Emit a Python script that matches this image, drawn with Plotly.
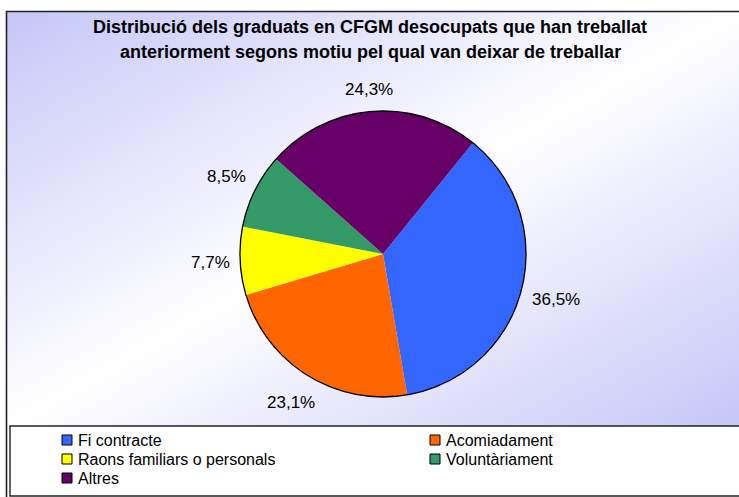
import base64
import math
import plotly.graph_objects as go

# Data
labels = ["Fi contracte", "Acomiadament", "Raons familiars o personals", "Voluntàriament", "Altres"]
values = [36.5, 23.1, 7.7, 8.5, 24.3]
colors = ["#3366FF", "#FF6600", "#FFFF00", "#339966", "#660066"]
title_lines = [
    "Distribució dels graduats en CFGM desocupats que han treballat",
    "anteriorment segons motiu pel qual van deixar de treballar",
]

W, H = 739, 497
FONT = "Liberation Sans, Arial, sans-serif"
LABEL_SIZE = 17
LEGEND_SIZE = 16
ROTATION = 39  # first slice starts this many degrees clockwise from 12 o'clock


def px(x):
    return x / W


def py(y):
    return 1 - y / H


# pie placement (pixels -> paper)
cx, cy, r = 383, 254, 143
domain = dict(x=[px(cx - r), px(cx + r)], y=[py(cy + r), py(cy - r)])

fig = go.Figure()
fig.add_trace(go.Pie(
    labels=labels, values=values, sort=False, direction="clockwise", rotation=ROTATION,
    marker=dict(colors=colors, line=dict(width=0)),
    textinfo="none", showlegend=False, domain=domain, hoverinfo="label+percent",
))
# black rim around the pie
fig.add_trace(go.Pie(
    labels=["rim"], values=[1], sort=False,
    marker=dict(colors=["rgba(0,0,0,0)"], line=dict(color="#000000", width=1.3)),
    textinfo="none", showlegend=False, hoverinfo="skip", domain=domain,
))

# diagonal lavender-white-lavender background for the chart area
gx0, gy0, gx1, gy1 = 7, 12, 739, 426
gw, gh = gx1 - gx0, gy1 - gy0
svg = (
    f'<svg xmlns="http://www.w3.org/2000/svg" width="{gw}" height="{gh}" '
    f'viewBox="0 0 {gw} {gh}" preserveAspectRatio="none">'
    '<defs><linearGradient id="g" x1="0" y1="0" x2="1" y2="1">'
    '<stop offset="0" stop-color="#c6c6f8"/>'
    '<stop offset="0.5" stop-color="#ffffff"/>'
    '<stop offset="1" stop-color="#c6c6f8"/>'
    '</linearGradient></defs>'
    f'<rect width="{gw}" height="{gh}" fill="url(#g)"/></svg>'
)
bg_src = "data:image/svg+xml;base64," + base64.b64encode(svg.encode()).decode()

shapes = [
    # outer chart frame
    dict(type="rect", xref="paper", yref="paper", x0=px(6.5), y0=py(11.5), x1=px(780), y1=py(540),
         line=dict(color="#222222", width=1.6), fillcolor="rgba(0,0,0,0)", layer="above"),
    # legend box
    dict(type="rect", xref="paper", yref="paper", x0=px(10), y0=py(426), x1=px(780), y1=py(496),
         line=dict(color="#222222", width=1.4), fillcolor="#ffffff", layer="above"),
]
annotations = []

# title
for i, line in enumerate(title_lines):
    annotations.append(dict(
        xref="paper", yref="paper", x=px(370), y=py(27 + 25 * i), xanchor="center", yanchor="middle",
        text=f"<b>{line}</b>", showarrow=False, font=dict(family=FONT, size=18, color="#000000"),
    ))

# percentage labels outside each slice, along the slice's mid angle
char_w = {",": 0.278, "%": 0.889}
total = sum(values)
start = 0.0
for v in values:
    txt = f"{v:.1f}".replace(".", ",") + "%"
    mid = math.radians(ROTATION + 360 * (start + v / 2) / total)
    start += v
    ux, uy = math.sin(mid), -math.cos(mid)
    tw = sum(char_w.get(c, 0.556) for c in txt) * LABEL_SIZE
    th = 20
    dist = r + 10 + abs(ux) * tw / 2 + abs(uy) * th / 2
    annotations.append(dict(
        xref="paper", yref="paper", x=px(cx + dist * ux), y=py(cy + dist * uy),
        xanchor="center", yanchor="middle", text=txt, showarrow=False,
        font=dict(family=FONT, size=LABEL_SIZE, color="#000000"),
    ))

# legend: two columns
col_x = [62, 430]
row_y = [440, 459, 478]
sq = 10
for i, (lab, col) in enumerate(zip(labels, colors)):
    x0 = col_x[i % 2]
    yc = row_y[i // 2]
    shapes.append(dict(
        type="rect", xref="paper", yref="paper", x0=px(x0), x1=px(x0 + sq),
        y0=py(yc + sq / 2), y1=py(yc - sq / 2),
        fillcolor=col, line=dict(color="#000000", width=1), layer="above",
    ))
    annotations.append(dict(
        xref="paper", yref="paper", x=px(x0 + sq + 4), y=py(yc), xanchor="left", yanchor="middle",
        text=lab, showarrow=False, font=dict(family=FONT, size=LEGEND_SIZE, color="#000000"),
    ))

fig.update_layout(
    width=W, height=H, margin=dict(l=0, r=0, t=0, b=0),
    paper_bgcolor="#ffffff", plot_bgcolor="#ffffff",
    shapes=shapes, annotations=annotations,
    images=[dict(source=bg_src, xref="paper", yref="paper", x=px(gx0), y=py(gy0),
                 sizex=gw / W, sizey=gh / H, xanchor="left", yanchor="top",
                 sizing="stretch", layer="below")],
    showlegend=False,
)

fig.write_html("out.html")
